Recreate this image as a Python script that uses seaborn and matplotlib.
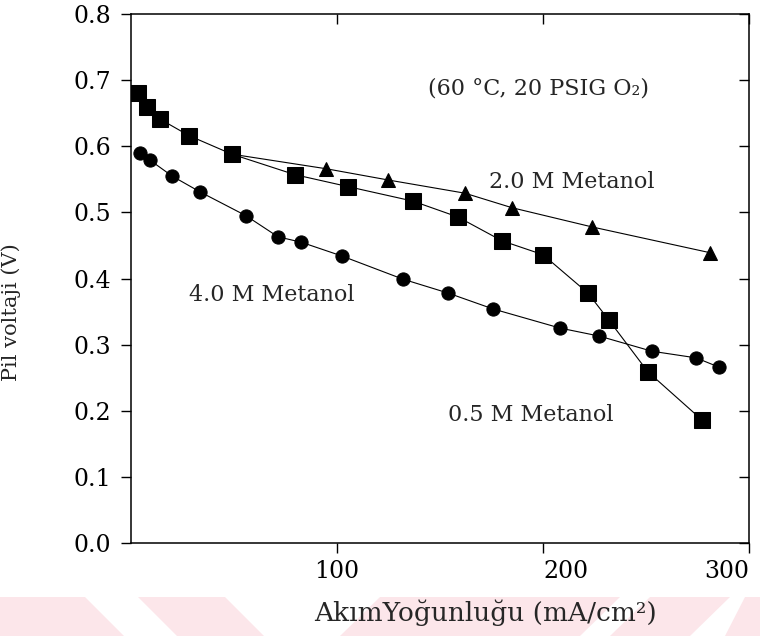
import numpy as np
import pandas as pd
import seaborn as sns
import matplotlib.pyplot as plt
from matplotlib.patches import Polygon

# Data (x in mA/cm2, y in V)
sq_x = [3.4, 7.8, 14.1, 28.2, 49.0, 79.6, 105.3, 136.9, 158.7, 180.1, 200.0, 221.8, 232.0, 250.9, 277.2]
sq_y = [0.681, 0.659, 0.641, 0.616, 0.588, 0.557, 0.539, 0.517, 0.493, 0.457, 0.436, 0.378, 0.337, 0.259, 0.186]

# 2.0 M curve shares its start with the 0.5 M curve
tri_x = [49.0, 94.7, 124.8, 162.1, 185.0, 223.8, 281.1]
tri_y = [0.588, 0.566, 0.549, 0.529, 0.507, 0.478, 0.439]

circ_x = [4.4, 9.2, 19.9, 33.5, 55.8, 71.4, 82.5, 102.4, 132.0, 153.9, 175.7, 208.3, 227.2, 252.9, 274.3, 285.4]
circ_y = [0.590, 0.579, 0.555, 0.531, 0.495, 0.463, 0.455, 0.434, 0.399, 0.378, 0.354, 0.325, 0.313, 0.290, 0.280, 0.266]

x_ticks = [100, 200, 300]
y_ticks = [0.0, 0.1, 0.2, 0.3, 0.4, 0.5, 0.6, 0.7, 0.8]

sns.set_theme(style='ticks')
plt.rcParams['font.family'] = ['DejaVu Serif', 'DejaVu Sans']

fig = plt.figure(figsize=(7.6, 6.36), dpi=100)
ax = fig.add_axes([131 / 760, 93 / 636, 618 / 760, 529 / 636])

# faint pink watermark stripes at the bottom (behind everything)
pink = '#fce6ea'
W, H = 760, 636
stripes = [
    [(0, 597), (85, 597), (124, 636), (0, 636)],
    [(138, 597), (225, 597), (264, 636), (177, 636)],
    [(380, 597), (620, 597), (580, 636), (340, 636)],
    [(650, 597), (730, 597), (690, 636), (610, 636)],
    [(745, 597), (760, 597), (760, 636), (725, 636)],
]
for pts in stripes:
    fig.patches.append(Polygon([(px / W, 1 - py / H) for px, py in pts], closed=True,
                               transform=fig.transFigure, facecolor=pink, edgecolor='none', zorder=-5))

df_tri = pd.DataFrame({'x': tri_x, 'y': tri_y})
df_sq = pd.DataFrame({'x': sq_x, 'y': sq_y})
df_circ = pd.DataFrame({'x': circ_x, 'y': circ_y})

sns.lineplot(data=df_tri, x='x', y='y', sort=False, ax=ax, color='black', lw=0.8,
             marker='^', markersize=10, markeredgecolor='black', markerfacecolor='black')
sns.lineplot(data=df_sq, x='x', y='y', sort=False, ax=ax, color='black', lw=0.8,
             marker='s', markersize=11, markeredgecolor='black', markerfacecolor='black')
sns.lineplot(data=df_circ, x='x', y='y', sort=False, ax=ax, color='black', lw=0.8,
             marker='o', markersize=9.5, markeredgecolor='black', markerfacecolor='black')

ax.set_xlim(0, 300)
ax.set_ylim(0, 0.8)
ax.set_xticks(x_ticks)
ax.set_yticks(y_ticks)
ax.set_yticklabels([f'{v:.1f}' for v in y_ticks])
ax.tick_params(axis='both', labelsize=17, colors='black', width=1, length=7, direction='out')
ax.tick_params(axis='y', pad=7)
ax.tick_params(axis='x', pad=5)
ax.tick_params(top=True, right=True, which='both')
# top and right ticks point inward
for t in ax.xaxis.get_major_ticks():
    t.tick2line.set_marker(3)
for t in ax.yaxis.get_major_ticks():
    t.tick2line.set_marker(0)
xlabels = ax.get_xticklabels()
xlabels[1].set_horizontalalignment('left')
xlabels[2].set_horizontalalignment('right')
for s in ax.spines.values():
    s.set_visible(True)
    s.set_color('black')
    s.set_linewidth(1.1)

ax.set_xlabel('AkımYoğunluğu (mA/cm²)', fontsize=19)
ax.set_ylabel('Pil voltaji (V)', fontsize=15)
ax.xaxis.set_label_coords((486 - 131) / 618, -(599 - 543) / 529)
ax.yaxis.set_label_coords((21 - 131) / 618, (543 - 312) / 529)

ax.text(144, 0.688, '(60 °C, 20 PSIG O₂)', fontsize=16, ha='left', va='center')
ax.text(174, 0.546, '2.0 M Metanol', fontsize=16, ha='left', va='center')
ax.text(28, 0.375, '4.0 M Metanol', fontsize=16, ha='left', va='center')
ax.text(154, 0.194, '0.5 M Metanol', fontsize=16, ha='left', va='center')

fig.savefig('out.png', dpi=100)
